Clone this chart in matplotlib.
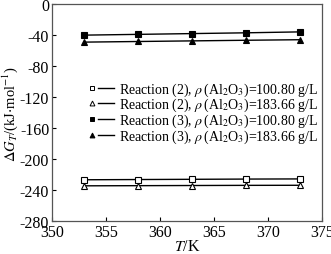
import numpy as np
import matplotlib.pyplot as plt
from matplotlib.lines import Line2D
from matplotlib.legend_handler import HandlerBase

plt.rcParams['font.family'] = ['Liberation Serif', 'DejaVu Serif']
plt.rcParams['mathtext.fontset'] = 'stix'
plt.rcParams['axes.unicode_minus'] = False

# temperatures (K)
T = [353, 358, 363, 368, 373]

# Gibbs free energy change (kJ/mol)
r2_100 = [-226.4, -226.1, -225.8, -225.5, -225.3]
r2_183 = [-234.2, -234.0, -233.8, -233.6, -233.5]
r3_100 = [-40.0, -39.0, -38.0, -37.0, -35.8]
r3_183 = [-49.0, -48.2, -47.4, -46.6, -45.9]

labels = [
    r'Reaction (2), $\rho\,$(Al$_2$O$_3$)=100.80 g/L',
    r'Reaction (2), $\rho\,$(Al$_2$O$_3$)=183.66 g/L',
    r'Reaction (3), $\rho\,$(Al$_2$O$_3$)=100.80 g/L',
    r'Reaction (3), $\rho\,$(Al$_2$O$_3$)=183.66 g/L',
]
series = [r2_100, r2_183, r3_100, r3_183]
markers = ['s', '^', 's', '^']
faces = ['white', 'white', 'black', 'black']


# legend key: marker on the left, short line segment on the right
class MarkerThenLine(HandlerBase):
    def create_artists(self, legend, orig_handle, xdescent, ydescent,
                       width, height, fontsize, trans):
        m, fc = orig_handle
        y = height / 2 - ydescent
        mk = Line2D([width * 0.12 - xdescent], [y], ls='none', marker=m, ms=3.5,
                    mfc=fc, mec='black', mew=0.7, transform=trans)
        ln = Line2D([width * 0.36 - xdescent, width - xdescent], [y, y],
                    color='black', lw=1.0, transform=trans)
        return [mk, ln]


fig = plt.figure(figsize=(3.31, 2.55), dpi=100)
ax = fig.add_axes([0.157, 0.128, 0.815, 0.852])

handles = []
for y, m, fc in zip(series, markers, faces):
    ax.plot(T, y, color='black', lw=1.0, marker=m, ms=4, mfc=fc, mec='black', mew=0.8)
    handles.append((m, fc))

ax.set_xlim(350, 375)
ax.set_ylim(-280, 0)
ax.set_xticks(np.arange(350, 376, 5))
ax.set_yticks(np.arange(-280, 1, 40))
ax.tick_params(direction='in', length=3, width=0.8, labelsize=11.5, pad=2)
ax.tick_params(axis='x', pad=2)
for s in ax.spines.values():
    s.set_color('#555555')
    s.set_linewidth(0.9)

ax.set_xlabel(r'$T$/K', fontsize=11.5, labelpad=-1.5)
ax.set_ylabel(r'$\Delta G_T$/(kJ$\cdot$mol$^{-1}$)', fontsize=10.5)
ax.yaxis.set_label_coords(-0.12, 0.5)

ax.legend(handles, labels, handler_map={tuple: MarkerThenLine()},
          loc='upper left', bbox_to_anchor=(0.115, 0.675), frameon=False,
          fontsize=10, handlelength=1.8, handletextpad=0.36, labelspacing=-0.12,
          borderaxespad=0)

fig.savefig('out.png', dpi=100)
